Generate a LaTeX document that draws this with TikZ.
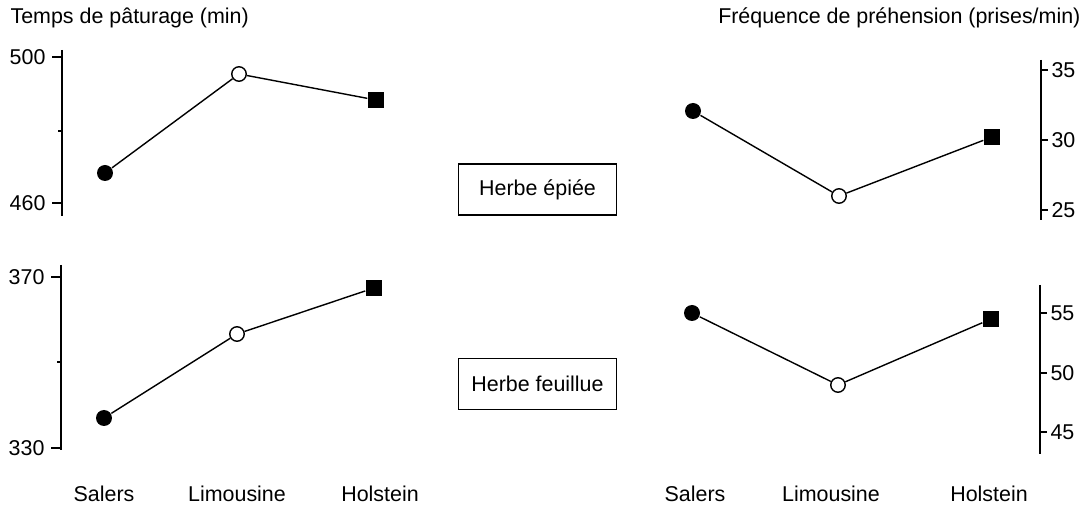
\documentclass[tikz,border=0pt]{standalone}
\usepackage{fontspec}
\setmainfont{Liberation Sans}
\usepackage{tikz}

\tikzset{
    plein/.style={circle, fill, inner sep=0pt, minimum size=0.32cm},
    vide/.style={circle, draw, fill=white, line width=0.8pt, inner sep=0pt, minimum size=0.29cm},
    carre/.style={rectangle, fill, inner sep=0pt, minimum size=0.32cm},
    boite/.style={draw, line width=0.8pt, minimum width=3.16cm, minimum height=1.02cm, inner sep=0pt},
}

\begin{document}
\begin{tikzpicture}[x=0.02cm, y=-0.02cm, line width=0.8pt, font=\fontsize{12.2}{14}\selectfont]

        \useasboundingbox (0,0) rectangle (1083,506);

        % axes gauches
        \draw (62,50) -- (62,216);
        \draw (52,57) -- (62,57);
        \draw (58,131) -- (62,131);
        \draw (52,203) -- (62,203);
        \node[left] at (52,57) {500};
        \node[left] at (52,203) {460};

        \draw (61,265) -- (61,450);
        \draw (51,277) -- (61,277);
        \draw (57,362) -- (61,362);
        \draw (51,448) -- (61,448);
        \node[left] at (51,277) {370};
        \node[left] at (51,448) {330};

        % axes droits
        \draw (1041,60) -- (1041,220);
        \draw (1041,70) -- (1048,70);
        \draw (1041,140) -- (1048,140);
        \draw (1041,210) -- (1048,210);
        \node[right] at (1045,70) {35};
        \node[right] at (1045,140) {30};
        \node[right] at (1045,210) {25};

        \draw (1040,285) -- (1040,454);
        \draw (1040,313) -- (1047,313);
        \draw (1040,373) -- (1047,373);
        \draw (1040,432) -- (1047,432);
        \node[right] at (1044,313) {55};
        \node[right] at (1044,373) {50};
        \node[right] at (1044,432) {45};

        % titres
        \node[right] at (4,18) {Temps de pâturage (min)};
        \node[left] at (1087,18) {Fréquence de préhension (prises/min)};

        % points
        \node[plein] (sa1) at (105,173) {};
        \node[vide] (li1) at (239,74) {};
        \node[carre] (ho1) at (376,100) {};
        \draw (sa1) -- (li1) -- (ho1);

        \node[plein] (sa2) at (104,418) {};
        \node[vide] (li2) at (237,334) {};
        \node[carre] (ho2) at (374,288) {};
        \draw (sa2) -- (li2) -- (ho2);

        \node[plein] (sa3) at (693,111) {};
        \node[vide] (li3) at (839,196) {};
        \node[carre] (ho3) at (992,137) {};
        \draw (sa3) -- (li3) -- (ho3);

        \node[plein] (sa4) at (692,313) {};
        \node[vide] (li4) at (838,385) {};
        \node[carre] (ho4) at (991,319) {};
        \draw (sa4) -- (li4) -- (ho4);

        % boites
        \node[boite] (epiee) at (537.5,189.5) {Herbe épiée};
        \node[boite] (feuillue) at (537.5,384) {Herbe feuillue};

        % races
        \node at (104,494) {Salers};
        \node at (237,494) {Limousine};
        \node at (380,494) {Holstein};
        \node at (695,494) {Salers};
        \node at (831,494) {Limousine};
        \node at (989,494) {Holstein};
    \end{tikzpicture}
\end{document}
